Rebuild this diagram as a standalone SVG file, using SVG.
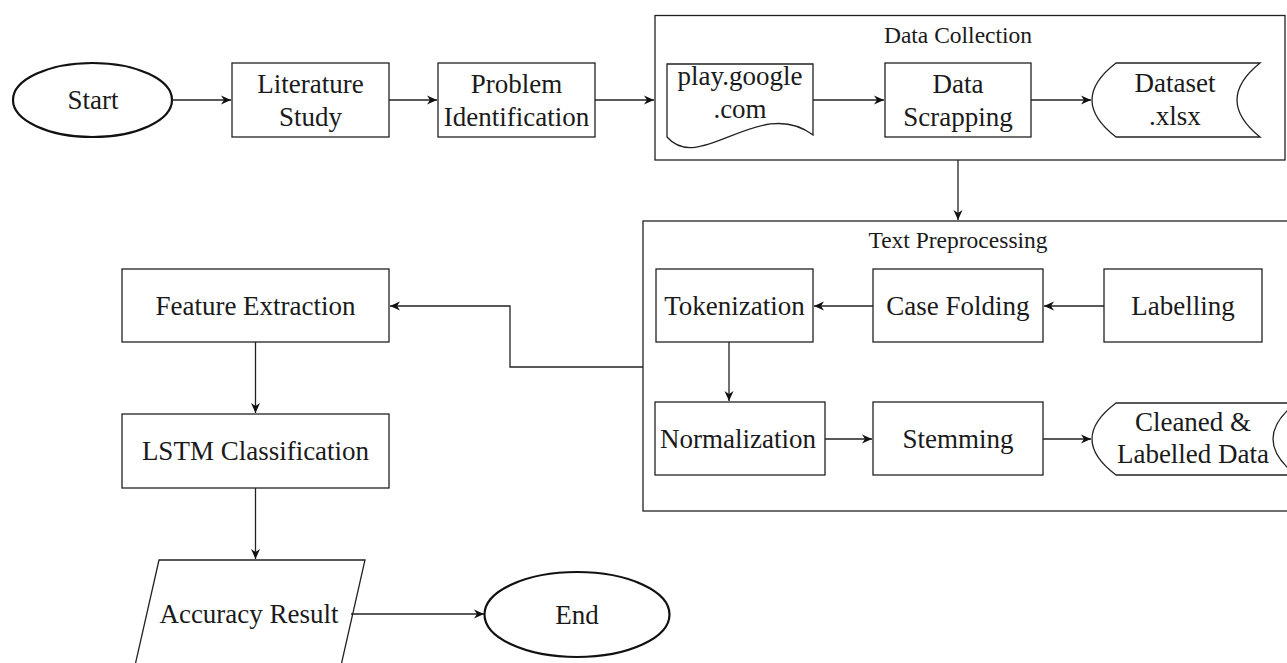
<svg xmlns="http://www.w3.org/2000/svg" width="1287" height="663" viewBox="0 0 1287 663">
<style>
.s{fill:#fff;stroke:#222;stroke-width:1.3}
.e{fill:#fff;stroke:#111;stroke-width:2.2}
.c{fill:none;stroke:#222;stroke-width:1.3}
.t{font-family:"Liberation Serif","Times New Roman",serif;font-size:27px;fill:#1a1a1a;text-anchor:middle}
.h{font-family:"Liberation Serif","Times New Roman",serif;font-size:23.5px;fill:#1a1a1a;text-anchor:middle}
</style>
<defs>
<marker id="a" markerUnits="userSpaceOnUse" markerWidth="11" markerHeight="10" refX="10" refY="5" orient="auto">
<path d="M0,0.5 L10,5 L0,9.5 L3,5 Z" fill="#111"/>
</marker>
</defs>
<rect width="1287" height="663" fill="#fff"/>

<g id="data-collection">
<rect class="s" x="655" y="15.5" width="630" height="144.5"/>
<text class="h" x="958" y="43">Data Collection</text>
</g>
<g id="text-preprocessing">
<rect class="s" x="643" y="221" width="670" height="290"/>
<text class="h" x="958" y="248">Text Preprocessing</text>
</g>

<g id="start">
<ellipse class="e" cx="92.5" cy="100" rx="79.5" ry="37"/>
<text class="t" x="93" y="109">Start</text>
</g>
<g id="literature">
<rect class="s" x="232" y="63" width="157" height="74"/>
<text class="t" x="310.5" y="93">Literature</text>
<text class="t" x="310.5" y="126">Study</text>
</g>
<g id="problem">
<rect class="s" x="438" y="63" width="157" height="74"/>
<text class="t" x="516.5" y="93">Problem</text>
<text class="t" x="516.5" y="126">Identification</text>
</g>
<g id="play-google">
<path class="s" d="M667,64 H813 V135 C760,95 700,175 667,137 Z"/>
<text class="t" x="740" y="85">play.google</text>
<text class="t" x="740" y="118">.com</text>
</g>
<g id="data-scrapping">
<rect class="s" x="885" y="63" width="146" height="74"/>
<text class="t" x="958" y="93">Data</text>
<text class="t" x="958" y="126">Scrapping</text>
</g>
<g id="dataset">
<path class="s" d="M1116,63 H1260 Q1214,100 1260,137 H1116 Q1068,100 1116,63 Z"/>
<text class="t" x="1175" y="92">Dataset</text>
<text class="t" x="1175" y="125">.xlsx</text>
</g>

<g id="tokenization">
<rect class="s" x="656" y="269" width="157" height="73"/>
<text class="t" x="734.5" y="315">Tokenization</text>
</g>
<g id="case-folding">
<rect class="s" x="873" y="269" width="170" height="73"/>
<text class="t" x="958" y="315">Case Folding</text>
</g>
<g id="labelling">
<rect class="s" x="1104" y="269" width="158" height="73"/>
<text class="t" x="1183" y="315">Labelling</text>
</g>
<g id="normalization">
<rect class="s" x="655" y="402" width="170" height="73"/>
<text class="t" x="738" y="448">Normalization</text>
</g>
<g id="stemming">
<rect class="s" x="873" y="402" width="170" height="73"/>
<text class="t" x="958" y="448">Stemming</text>
</g>
<g id="cleaned">
<path class="s" d="M1116,403 H1296 Q1250,439 1296,475 H1116 Q1068,439 1116,403 Z"/>
<text class="t" x="1193" y="431">Cleaned &amp;</text>
<text class="t" x="1193" y="463">Labelled Data</text>
</g>

<g id="feature-extraction">
<rect class="s" x="122" y="269" width="267" height="73"/>
<text class="t" x="255.5" y="315">Feature Extraction</text>
</g>
<g id="lstm">
<rect class="s" x="122" y="414" width="267" height="74"/>
<text class="t" x="255.5" y="460">LSTM Classification</text>
</g>
<g id="accuracy">
<path class="s" d="M159,560 H365 L340,670 H134 Z"/>
<text class="t" x="249" y="623">Accuracy Result</text>
</g>
<g id="end">
<ellipse class="e" cx="577" cy="614.5" rx="92.5" ry="42.5"/>
<text class="t" x="577" y="624">End</text>
</g>

<g id="connectors">
<path class="c" d="M172,100 H231" marker-end="url(#a)"/>
<path class="c" d="M389,100 H437" marker-end="url(#a)"/>
<path class="c" d="M595,100 H654" marker-end="url(#a)"/>
<path class="c" d="M813,100 H884" marker-end="url(#a)"/>
<path class="c" d="M1031,100 H1091" marker-end="url(#a)"/>
<path class="c" d="M958,160 V220" marker-end="url(#a)"/>
<path class="c" d="M1104,306 H1044" marker-end="url(#a)"/>
<path class="c" d="M873,306 H814" marker-end="url(#a)"/>
<path class="c" d="M729,342 V401" marker-end="url(#a)"/>
<path class="c" d="M825,439 H872" marker-end="url(#a)"/>
<path class="c" d="M1043,439 H1091" marker-end="url(#a)"/>
<path class="c" d="M643,367 H510 V306 H390" marker-end="url(#a)"/>
<path class="c" d="M255.5,342 V413" marker-end="url(#a)"/>
<path class="c" d="M255.5,488 V559" marker-end="url(#a)"/>
<path class="c" d="M351,614 H484" marker-end="url(#a)"/>
</g>
</svg>
